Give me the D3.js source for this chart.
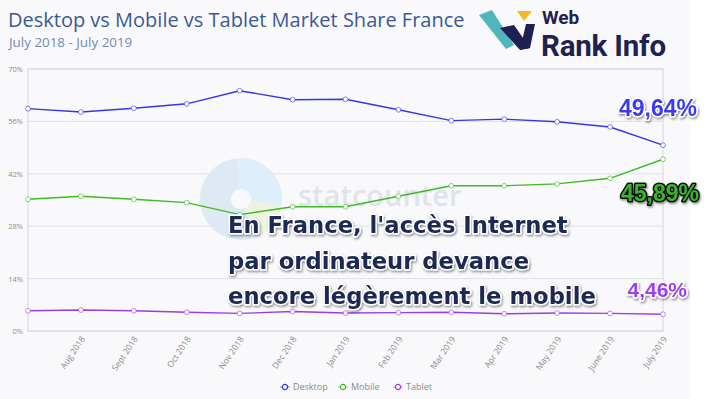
<!DOCTYPE html>
<html>
<head>
<meta charset="utf-8">
<script src="https://cdn.jsdelivr.net/npm/d3@7"></script>
<style>
  body { margin: 0; background: #fff; }
  svg { display: block; }
</style>
</head>
<body>
<div id="chart"></div>
<script>
// Data (% market share, France)
var months = ['July 2018', 'Aug 2018', 'Sept 2018', 'Oct 2018', 'Nov 2018', 'Dec 2018', 'Jan 2019',
              'Feb 2019', 'Mar 2019', 'Apr 2019', 'May 2019', 'June 2019', 'July 2019'];
var desktop = [59.4, 58.5, 59.5, 60.7, 64.2, 61.8, 61.9, 59.1, 56.2, 56.6, 55.9, 54.5, 49.64];
var mobile  = [35.2, 36.0, 35.2, 34.3, 31.1, 33.2, 33.2, 36.0, 38.8, 38.8, 39.3, 40.8, 45.89];
var tablet  = [5.4, 5.6, 5.4, 5.0, 4.7, 5.2, 4.8, 4.9, 5.0, 4.6, 4.8, 4.7, 4.46];
var yTicks = [0, 14, 28, 42, 56, 70];
var seriesNames = ['Desktop', 'Mobile', 'Tablet'];
var seriesColors = ['#3535e8', '#3dbb22', '#9a3ced'];
var endLabels = ['49,64%', '45,89%', '4,46%'];
var headline = ["En France, l'accès Internet", 'par ordinateur devance', 'encore légèrement le mobile'];

var width = 710, height = 399;
var plotLeft = 28, plotRight = 663, plotTop = 69, plotBottom = 331;

var svg = d3.select('#chart').append('svg')
    .attr('width', width)
    .attr('height', height);

var defs = svg.append('defs');
var shadow = defs.append('filter').attr('id', 'shadow')
    .attr('x', '-10%').attr('y', '-20%').attr('width', '120%').attr('height', '150%');
shadow.append('feDropShadow')
    .attr('dx', 1).attr('dy', 1.5).attr('stdDeviation', 1.2)
    .attr('flood-color', '#000').attr('flood-opacity', 0.45);

// background
svg.append('rect').attr('width', 690).attr('height', height).attr('fill', '#f9f9fb');

// title
svg.append('text')
    .attr('x', 8).attr('y', 27)
    .style('font-family', 'Open Sans')
    .style('font-size', '20px')
    .attr('fill', '#3b5a94')
    .text('Desktop vs Mobile vs Tablet Market Share France');
svg.append('text')
    .attr('x', 9).attr('y', 47)
    .style('font-family', 'Open Sans')
    .style('font-size', '13.4px')
    .attr('fill', '#7189b3')
    .text('July 2018 - July 2019');

// logo
var logo = svg.append('g');
logo.append('polygon').attr('points', '479,15 492,10 514,45 506,49').attr('fill', '#4db7bd');
logo.append('polygon').attr('points', '500,28 514,25 530,48 520,50').attr('fill', '#1f2250');
logo.append('polygon').attr('points', '520,50 530,48 535,24 526,24').attr('fill', '#1f2250');
logo.append('polygon').attr('points', '517,11 532,11 524,21').attr('fill', '#f6b722');
logo.append('text').attr('x', 542).attr('y', 23.5)
    .style('font-family', 'Roboto').style('font-weight', 700).style('font-size', '19px')
    .attr('fill', '#1f2250').text('Web');
logo.append('text').attr('x', 541).attr('y', 56)
    .style('font-family', 'Roboto').style('font-weight', 700).style('font-size', '29.5px')
    .attr('fill', '#1f2250').attr('letter-spacing', '-0.2').text('Rank Info');

// scales
var x = d3.scalePoint().domain(months).range([plotLeft, plotRight]);
var y = d3.scaleLinear().domain([0, 70]).range([plotBottom, plotTop]);

// gridlines
svg.append('g').selectAll('line')
    .data(yTicks)
    .enter().append('line')
    .attr('x1', plotLeft).attr('x2', plotRight)
    .attr('y1', d => y(d)).attr('y2', d => y(d))
    .attr('stroke', '#e2e2e6').attr('stroke-width', 1);

svg.append('rect')
    .attr('x', plotLeft).attr('y', plotTop)
    .attr('width', plotRight - plotLeft).attr('height', plotBottom - plotTop)
    .attr('fill', 'none').attr('stroke', '#d6d6da');

// y axis labels
var yAxis = d3.axisLeft(y).tickValues(yTicks).tickSize(0).tickPadding(5).tickFormat(d => d + '%');
var yg = svg.append('g').attr('transform', `translate(${plotLeft},0)`).call(yAxis);
yg.select('.domain').remove();
yg.selectAll('text').attr('fill', '#8a8a8a').style('font-family', 'Open Sans').style('font-size', '7.5px');

// x axis labels
var xAxis = d3.axisBottom(x).tickValues(months.slice(1)).tickSize(0).tickPadding(0);
var xg = svg.append('g').attr('transform', `translate(0,${plotBottom})`).call(xAxis);
xg.select('.domain').remove();
xg.selectAll('text')
    .attr('fill', '#8a8a8a')
    .style('font-family', 'Open Sans').style('font-size', '8.5px')
    .attr('text-anchor', 'end')
    .attr('dy', 0)
    .attr('transform', 'translate(4,8) rotate(-56)');

// watermark
var wm = svg.append('g').attr('transform', 'translate(247,195)').attr('opacity', 0.9);
var arc = d3.arc().innerRadius(10).outerRadius(41);
wm.append('path').attr('d', arc({startAngle: -0.1, endAngle: 1.75})).attr('fill', '#d9eefa')
    .attr('transform', 'translate(-6,4)');
wm.append('path').attr('d', arc({startAngle: 1.75, endAngle: 2.75})).attr('fill', '#eef2dc')
    .attr('transform', 'translate(-6,4)');
wm.append('path').attr('d', arc({startAngle: 2.75, endAngle: 2 * Math.PI - 0.1})).attr('fill', '#dde8f4')
    .attr('transform', 'translate(-6,4)');
svg.append('text')
    .attr('x', 298).attr('y', 206)
    .style('font-family', 'Open Sans').style('font-weight', 600).style('font-size', '29px')
    .attr('fill', '#dfe3ec')
    .text('statcounter');

// lines
var allSeries = [desktop, mobile, tablet];
var line = d3.line().x((d, i) => x(months[i])).y(d => y(d));

allSeries.forEach(function(values, k) {
    var g = svg.append('g');
    g.append('path')
        .datum(values)
        .attr('d', line)
        .attr('fill', 'none')
        .attr('stroke', seriesColors[k])
        .attr('stroke-width', 1.4);
    g.selectAll('circle')
        .data(values)
        .enter().append('circle')
        .attr('cx', (d, i) => x(months[i]))
        .attr('cy', d => y(d))
        .attr('r', 2.4)
        .attr('fill', '#fff')
        .attr('stroke', seriesColors[k])
        .attr('stroke-opacity', 0.6)
        .attr('stroke-width', 1);
});

// legend
var legendX = [285, 343, 398];
var legend = svg.append('g');
seriesNames.forEach(function(name, k) {
    var lg = legend.append('g').attr('transform', `translate(${legendX[k]},387)`);
    lg.append('line').attr('x1', -5).attr('x2', 5).attr('stroke', seriesColors[k]).attr('stroke-opacity', 0.6);
    lg.append('circle').attr('r', 2.6).attr('fill', '#fff').attr('stroke', seriesColors[k]).attr('stroke-width', 1.2);
    lg.append('text').attr('x', 8).attr('y', 3)
        .style('font-family', 'Open Sans').style('font-size', '9px')
        .attr('fill', '#8a8a8a').text(name);
});

// headline
svg.append('g').selectAll('text')
    .data(headline)
    .enter().append('text')
    .attr('x', 228)
    .attr('y', (d, i) => 233 + i * 35.5)
    .style('font-family', 'DejaVu Sans').style('font-weight', 700).style('font-size', '22.7px')
    .attr('fill', '#1f2a52')
    .attr('stroke', '#fff').attr('stroke-width', 3).attr('stroke-linejoin', 'round')
    .style('paint-order', 'stroke')
    .attr('filter', 'url(#shadow)')
    .text(d => d);

// end labels
var endY = [116, 201, 297];
var endStroke = ['#fff', '#111', '#fff'];
var endColor = ['#3b3bee', '#37b52a', '#9d3cf0'];
svg.append('g').selectAll('text')
    .data(endLabels)
    .enter().append('text')
    .attr('x', 697)
    .attr('y', (d, i) => endY[i])
    .attr('text-anchor', 'end')
    .style('font-family', 'Liberation Sans, Arial').style('font-weight', 700)
    .style('font-size', (d, i) => i === 2 ? '21px' : '23px')
    .attr('dx', (d, i) => i === 2 ? -10 : (i === 1 ? 2 : 0))
    .attr('fill', (d, i) => endColor[i])
    .attr('stroke', (d, i) => endStroke[i]).attr('stroke-width', 3).attr('stroke-linejoin', 'round')
    .style('paint-order', 'stroke')
    .attr('filter', 'url(#shadow)')
    .text(d => d);
</script>
</body>
</html>
